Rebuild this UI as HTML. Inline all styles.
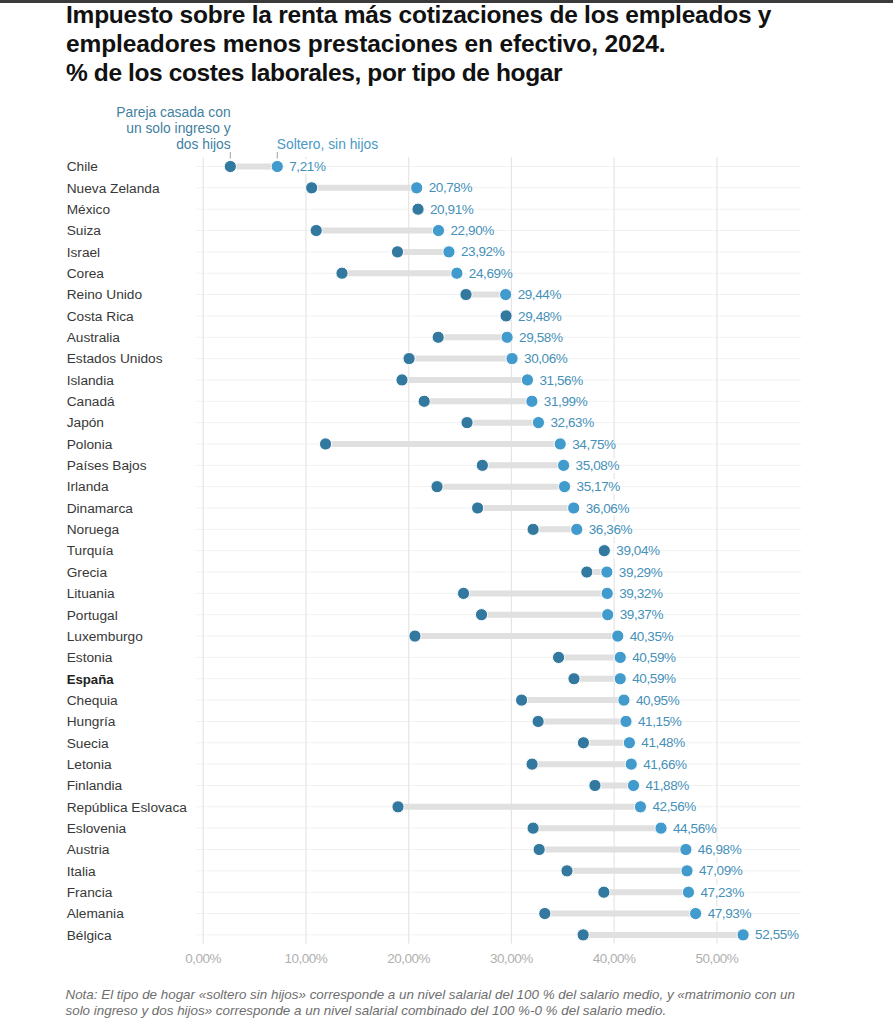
<!DOCTYPE html>
<html><head><meta charset="utf-8">
<style>
html,body{margin:0;padding:0;background:#fff;}
body{width:893px;height:1024px;position:relative;overflow:hidden;font-family:"Liberation Sans",sans-serif;}
.topbar{position:absolute;left:0;top:0;width:893px;height:2.6px;background:#3b3b3b;}
svg{position:absolute;left:0;top:0;}
svg text{font-family:"Liberation Sans",sans-serif;}
.t{font-weight:bold;font-size:24.5px;fill:#111;}
.cty{font-size:13.7px;fill:#383838;}
.cty.b{font-weight:bold;fill:#222;font-size:13.2px;}
.val{font-size:13.5px;fill:#4590b8;letter-spacing:-0.4px;}
.ax{font-size:13.5px;fill:#b0b0b0;letter-spacing:-0.5px;}
.lg1{font-size:13.8px;fill:#42809f;}
.lg2{font-size:13.8px;fill:#4a98c5;}
.note{font-size:13.4px;font-style:italic;fill:#6e6e6e;}
</style></head>
<body>
<div class="topbar"></div>
<svg width="893" height="1024" viewBox="0 0 893 1024">
<text class="t" x="66" y="22.8" textLength="705.5" lengthAdjust="spacing">Impuesto sobre la renta más cotizaciones de los empleados y</text>
<text class="t" x="66" y="51.5" textLength="599.5" lengthAdjust="spacing">empleadores menos prestaciones en efectivo, 2024.</text>
<text class="t" x="66" y="80.7" textLength="496.5" lengthAdjust="spacing">% de los costes laborales, por tipo de hogar</text>
<text class="lg1" x="230.6" y="116.5" text-anchor="end">Pareja casada con</text>
<text class="lg1" x="230.6" y="132.9" text-anchor="end">un solo ingreso y</text>
<text class="lg1" x="230.6" y="149" text-anchor="end">dos hijos</text>
<text class="lg2" x="276.8" y="148.6">Soltero, sin hijos</text>
<line x1="230.32" y1="152" x2="230.32" y2="158.5" stroke="#a0a0a0" stroke-width="1"/>
<line x1="277.28" y1="152" x2="277.28" y2="158.5" stroke="#a0a0a0" stroke-width="1"/>
<line x1="196" y1="166.50" x2="801" y2="166.50" stroke="#f1f1f1" stroke-width="1"/>
<line x1="196" y1="187.84" x2="801" y2="187.84" stroke="#f1f1f1" stroke-width="1"/>
<line x1="196" y1="209.19" x2="801" y2="209.19" stroke="#f1f1f1" stroke-width="1"/>
<line x1="196" y1="230.53" x2="801" y2="230.53" stroke="#f1f1f1" stroke-width="1"/>
<line x1="196" y1="251.88" x2="801" y2="251.88" stroke="#f1f1f1" stroke-width="1"/>
<line x1="196" y1="273.22" x2="801" y2="273.22" stroke="#f1f1f1" stroke-width="1"/>
<line x1="196" y1="294.56" x2="801" y2="294.56" stroke="#f1f1f1" stroke-width="1"/>
<line x1="196" y1="315.91" x2="801" y2="315.91" stroke="#f1f1f1" stroke-width="1"/>
<line x1="196" y1="337.25" x2="801" y2="337.25" stroke="#f1f1f1" stroke-width="1"/>
<line x1="196" y1="358.60" x2="801" y2="358.60" stroke="#f1f1f1" stroke-width="1"/>
<line x1="196" y1="379.94" x2="801" y2="379.94" stroke="#f1f1f1" stroke-width="1"/>
<line x1="196" y1="401.28" x2="801" y2="401.28" stroke="#f1f1f1" stroke-width="1"/>
<line x1="196" y1="422.63" x2="801" y2="422.63" stroke="#f1f1f1" stroke-width="1"/>
<line x1="196" y1="443.97" x2="801" y2="443.97" stroke="#f1f1f1" stroke-width="1"/>
<line x1="196" y1="465.32" x2="801" y2="465.32" stroke="#f1f1f1" stroke-width="1"/>
<line x1="196" y1="486.66" x2="801" y2="486.66" stroke="#f1f1f1" stroke-width="1"/>
<line x1="196" y1="508.00" x2="801" y2="508.00" stroke="#f1f1f1" stroke-width="1"/>
<line x1="196" y1="529.35" x2="801" y2="529.35" stroke="#f1f1f1" stroke-width="1"/>
<line x1="196" y1="550.69" x2="801" y2="550.69" stroke="#f1f1f1" stroke-width="1"/>
<line x1="196" y1="572.04" x2="801" y2="572.04" stroke="#f1f1f1" stroke-width="1"/>
<line x1="196" y1="593.38" x2="801" y2="593.38" stroke="#f1f1f1" stroke-width="1"/>
<line x1="196" y1="614.72" x2="801" y2="614.72" stroke="#f1f1f1" stroke-width="1"/>
<line x1="196" y1="636.07" x2="801" y2="636.07" stroke="#f1f1f1" stroke-width="1"/>
<line x1="196" y1="657.41" x2="801" y2="657.41" stroke="#f1f1f1" stroke-width="1"/>
<line x1="196" y1="678.76" x2="801" y2="678.76" stroke="#f1f1f1" stroke-width="1"/>
<line x1="196" y1="700.10" x2="801" y2="700.10" stroke="#f1f1f1" stroke-width="1"/>
<line x1="196" y1="721.44" x2="801" y2="721.44" stroke="#f1f1f1" stroke-width="1"/>
<line x1="196" y1="742.79" x2="801" y2="742.79" stroke="#f1f1f1" stroke-width="1"/>
<line x1="196" y1="764.13" x2="801" y2="764.13" stroke="#f1f1f1" stroke-width="1"/>
<line x1="196" y1="785.48" x2="801" y2="785.48" stroke="#f1f1f1" stroke-width="1"/>
<line x1="196" y1="806.82" x2="801" y2="806.82" stroke="#f1f1f1" stroke-width="1"/>
<line x1="196" y1="828.16" x2="801" y2="828.16" stroke="#f1f1f1" stroke-width="1"/>
<line x1="196" y1="849.51" x2="801" y2="849.51" stroke="#f1f1f1" stroke-width="1"/>
<line x1="196" y1="870.85" x2="801" y2="870.85" stroke="#f1f1f1" stroke-width="1"/>
<line x1="196" y1="892.20" x2="801" y2="892.20" stroke="#f1f1f1" stroke-width="1"/>
<line x1="196" y1="913.54" x2="801" y2="913.54" stroke="#f1f1f1" stroke-width="1"/>
<line x1="196" y1="934.88" x2="801" y2="934.88" stroke="#f1f1f1" stroke-width="1"/>
<line x1="203.20" y1="157" x2="203.20" y2="943.5" stroke="#e5e5e5" stroke-width="1.2"/>
<line x1="305.94" y1="157" x2="305.94" y2="943.5" stroke="#e5e5e5" stroke-width="1.2"/>
<line x1="408.68" y1="157" x2="408.68" y2="943.5" stroke="#e5e5e5" stroke-width="1.2"/>
<line x1="511.42" y1="157" x2="511.42" y2="943.5" stroke="#e5e5e5" stroke-width="1.2"/>
<line x1="614.16" y1="157" x2="614.16" y2="943.5" stroke="#e5e5e5" stroke-width="1.2"/>
<line x1="716.90" y1="157" x2="716.90" y2="943.5" stroke="#e5e5e5" stroke-width="1.2"/>
<line x1="230.32" y1="166.50" x2="277.28" y2="166.50" stroke="#e0e0e0" stroke-width="6"/>
<line x1="311.69" y1="187.84" x2="416.69" y2="187.84" stroke="#e0e0e0" stroke-width="6"/>
<line x1="316.21" y1="230.53" x2="438.47" y2="230.53" stroke="#e0e0e0" stroke-width="6"/>
<line x1="397.48" y1="251.88" x2="448.95" y2="251.88" stroke="#e0e0e0" stroke-width="6"/>
<line x1="342.00" y1="273.22" x2="456.87" y2="273.22" stroke="#e0e0e0" stroke-width="6"/>
<line x1="466.01" y1="294.56" x2="505.67" y2="294.56" stroke="#e0e0e0" stroke-width="6"/>
<line x1="438.17" y1="337.25" x2="507.10" y2="337.25" stroke="#e0e0e0" stroke-width="6"/>
<line x1="409.09" y1="358.60" x2="512.04" y2="358.60" stroke="#e0e0e0" stroke-width="6"/>
<line x1="402.00" y1="379.94" x2="527.45" y2="379.94" stroke="#e0e0e0" stroke-width="6"/>
<line x1="424.19" y1="401.28" x2="531.87" y2="401.28" stroke="#e0e0e0" stroke-width="6"/>
<line x1="467.04" y1="422.63" x2="538.44" y2="422.63" stroke="#e0e0e0" stroke-width="6"/>
<line x1="325.56" y1="443.97" x2="560.22" y2="443.97" stroke="#e0e0e0" stroke-width="6"/>
<line x1="482.34" y1="465.32" x2="563.61" y2="465.32" stroke="#e0e0e0" stroke-width="6"/>
<line x1="437.04" y1="486.66" x2="564.54" y2="486.66" stroke="#e0e0e0" stroke-width="6"/>
<line x1="477.62" y1="508.00" x2="573.68" y2="508.00" stroke="#e0e0e0" stroke-width="6"/>
<line x1="533.10" y1="529.35" x2="576.76" y2="529.35" stroke="#e0e0e0" stroke-width="6"/>
<line x1="586.83" y1="572.04" x2="606.87" y2="572.04" stroke="#e0e0e0" stroke-width="6"/>
<line x1="463.54" y1="593.38" x2="607.17" y2="593.38" stroke="#e0e0e0" stroke-width="6"/>
<line x1="481.52" y1="614.72" x2="607.69" y2="614.72" stroke="#e0e0e0" stroke-width="6"/>
<line x1="414.95" y1="636.07" x2="617.76" y2="636.07" stroke="#e0e0e0" stroke-width="6"/>
<line x1="558.58" y1="657.41" x2="620.22" y2="657.41" stroke="#e0e0e0" stroke-width="6"/>
<line x1="573.99" y1="678.76" x2="620.22" y2="678.76" stroke="#e0e0e0" stroke-width="6"/>
<line x1="521.59" y1="700.10" x2="623.92" y2="700.10" stroke="#e0e0e0" stroke-width="6"/>
<line x1="538.13" y1="721.44" x2="625.98" y2="721.44" stroke="#e0e0e0" stroke-width="6"/>
<line x1="583.44" y1="742.79" x2="629.37" y2="742.79" stroke="#e0e0e0" stroke-width="6"/>
<line x1="532.07" y1="764.13" x2="631.21" y2="764.13" stroke="#e0e0e0" stroke-width="6"/>
<line x1="594.95" y1="785.48" x2="633.48" y2="785.48" stroke="#e0e0e0" stroke-width="6"/>
<line x1="398.00" y1="806.82" x2="640.46" y2="806.82" stroke="#e0e0e0" stroke-width="6"/>
<line x1="533.10" y1="828.16" x2="661.01" y2="828.16" stroke="#e0e0e0" stroke-width="6"/>
<line x1="539.16" y1="849.51" x2="685.87" y2="849.51" stroke="#e0e0e0" stroke-width="6"/>
<line x1="567.00" y1="870.85" x2="687.00" y2="870.85" stroke="#e0e0e0" stroke-width="6"/>
<line x1="603.89" y1="892.20" x2="688.44" y2="892.20" stroke="#e0e0e0" stroke-width="6"/>
<line x1="544.81" y1="913.54" x2="695.63" y2="913.54" stroke="#e0e0e0" stroke-width="6"/>
<line x1="583.13" y1="934.88" x2="743.10" y2="934.88" stroke="#e0e0e0" stroke-width="6"/>
<circle cx="277.28" cy="166.50" r="6.1" fill="#419bcd" stroke="#fff" stroke-width="1"/>
<circle cx="230.32" cy="166.50" r="6.1" fill="#32789f" stroke="#fff" stroke-width="1"/>
<circle cx="416.69" cy="187.84" r="6.1" fill="#419bcd" stroke="#fff" stroke-width="1"/>
<circle cx="311.69" cy="187.84" r="6.1" fill="#32789f" stroke="#fff" stroke-width="1"/>
<circle cx="418.03" cy="209.19" r="6.1" fill="#419bcd" stroke="#fff" stroke-width="1"/>
<circle cx="418.03" cy="209.19" r="6.1" fill="#32789f" stroke="#fff" stroke-width="1"/>
<circle cx="438.47" cy="230.53" r="6.1" fill="#419bcd" stroke="#fff" stroke-width="1"/>
<circle cx="316.21" cy="230.53" r="6.1" fill="#32789f" stroke="#fff" stroke-width="1"/>
<circle cx="448.95" cy="251.88" r="6.1" fill="#419bcd" stroke="#fff" stroke-width="1"/>
<circle cx="397.48" cy="251.88" r="6.1" fill="#32789f" stroke="#fff" stroke-width="1"/>
<circle cx="456.87" cy="273.22" r="6.1" fill="#419bcd" stroke="#fff" stroke-width="1"/>
<circle cx="342.00" cy="273.22" r="6.1" fill="#32789f" stroke="#fff" stroke-width="1"/>
<circle cx="505.67" cy="294.56" r="6.1" fill="#419bcd" stroke="#fff" stroke-width="1"/>
<circle cx="466.01" cy="294.56" r="6.1" fill="#32789f" stroke="#fff" stroke-width="1"/>
<circle cx="506.08" cy="315.91" r="6.1" fill="#419bcd" stroke="#fff" stroke-width="1"/>
<circle cx="506.08" cy="315.91" r="6.1" fill="#32789f" stroke="#fff" stroke-width="1"/>
<circle cx="507.10" cy="337.25" r="6.1" fill="#419bcd" stroke="#fff" stroke-width="1"/>
<circle cx="438.17" cy="337.25" r="6.1" fill="#32789f" stroke="#fff" stroke-width="1"/>
<circle cx="512.04" cy="358.60" r="6.1" fill="#419bcd" stroke="#fff" stroke-width="1"/>
<circle cx="409.09" cy="358.60" r="6.1" fill="#32789f" stroke="#fff" stroke-width="1"/>
<circle cx="527.45" cy="379.94" r="6.1" fill="#419bcd" stroke="#fff" stroke-width="1"/>
<circle cx="402.00" cy="379.94" r="6.1" fill="#32789f" stroke="#fff" stroke-width="1"/>
<circle cx="531.87" cy="401.28" r="6.1" fill="#419bcd" stroke="#fff" stroke-width="1"/>
<circle cx="424.19" cy="401.28" r="6.1" fill="#32789f" stroke="#fff" stroke-width="1"/>
<circle cx="538.44" cy="422.63" r="6.1" fill="#419bcd" stroke="#fff" stroke-width="1"/>
<circle cx="467.04" cy="422.63" r="6.1" fill="#32789f" stroke="#fff" stroke-width="1"/>
<circle cx="560.22" cy="443.97" r="6.1" fill="#419bcd" stroke="#fff" stroke-width="1"/>
<circle cx="325.56" cy="443.97" r="6.1" fill="#32789f" stroke="#fff" stroke-width="1"/>
<circle cx="563.61" cy="465.32" r="6.1" fill="#419bcd" stroke="#fff" stroke-width="1"/>
<circle cx="482.34" cy="465.32" r="6.1" fill="#32789f" stroke="#fff" stroke-width="1"/>
<circle cx="564.54" cy="486.66" r="6.1" fill="#419bcd" stroke="#fff" stroke-width="1"/>
<circle cx="437.04" cy="486.66" r="6.1" fill="#32789f" stroke="#fff" stroke-width="1"/>
<circle cx="573.68" cy="508.00" r="6.1" fill="#419bcd" stroke="#fff" stroke-width="1"/>
<circle cx="477.62" cy="508.00" r="6.1" fill="#32789f" stroke="#fff" stroke-width="1"/>
<circle cx="576.76" cy="529.35" r="6.1" fill="#419bcd" stroke="#fff" stroke-width="1"/>
<circle cx="533.10" cy="529.35" r="6.1" fill="#32789f" stroke="#fff" stroke-width="1"/>
<circle cx="604.30" cy="550.69" r="6.1" fill="#419bcd" stroke="#fff" stroke-width="1"/>
<circle cx="604.30" cy="550.69" r="6.1" fill="#32789f" stroke="#fff" stroke-width="1"/>
<circle cx="606.87" cy="572.04" r="6.1" fill="#419bcd" stroke="#fff" stroke-width="1"/>
<circle cx="586.83" cy="572.04" r="6.1" fill="#32789f" stroke="#fff" stroke-width="1"/>
<circle cx="607.17" cy="593.38" r="6.1" fill="#419bcd" stroke="#fff" stroke-width="1"/>
<circle cx="463.54" cy="593.38" r="6.1" fill="#32789f" stroke="#fff" stroke-width="1"/>
<circle cx="607.69" cy="614.72" r="6.1" fill="#419bcd" stroke="#fff" stroke-width="1"/>
<circle cx="481.52" cy="614.72" r="6.1" fill="#32789f" stroke="#fff" stroke-width="1"/>
<circle cx="617.76" cy="636.07" r="6.1" fill="#419bcd" stroke="#fff" stroke-width="1"/>
<circle cx="414.95" cy="636.07" r="6.1" fill="#32789f" stroke="#fff" stroke-width="1"/>
<circle cx="620.22" cy="657.41" r="6.1" fill="#419bcd" stroke="#fff" stroke-width="1"/>
<circle cx="558.58" cy="657.41" r="6.1" fill="#32789f" stroke="#fff" stroke-width="1"/>
<circle cx="620.22" cy="678.76" r="6.1" fill="#419bcd" stroke="#fff" stroke-width="1"/>
<circle cx="573.99" cy="678.76" r="6.1" fill="#32789f" stroke="#fff" stroke-width="1"/>
<circle cx="623.92" cy="700.10" r="6.1" fill="#419bcd" stroke="#fff" stroke-width="1"/>
<circle cx="521.59" cy="700.10" r="6.1" fill="#32789f" stroke="#fff" stroke-width="1"/>
<circle cx="625.98" cy="721.44" r="6.1" fill="#419bcd" stroke="#fff" stroke-width="1"/>
<circle cx="538.13" cy="721.44" r="6.1" fill="#32789f" stroke="#fff" stroke-width="1"/>
<circle cx="629.37" cy="742.79" r="6.1" fill="#419bcd" stroke="#fff" stroke-width="1"/>
<circle cx="583.44" cy="742.79" r="6.1" fill="#32789f" stroke="#fff" stroke-width="1"/>
<circle cx="631.21" cy="764.13" r="6.1" fill="#419bcd" stroke="#fff" stroke-width="1"/>
<circle cx="532.07" cy="764.13" r="6.1" fill="#32789f" stroke="#fff" stroke-width="1"/>
<circle cx="633.48" cy="785.48" r="6.1" fill="#419bcd" stroke="#fff" stroke-width="1"/>
<circle cx="594.95" cy="785.48" r="6.1" fill="#32789f" stroke="#fff" stroke-width="1"/>
<circle cx="640.46" cy="806.82" r="6.1" fill="#419bcd" stroke="#fff" stroke-width="1"/>
<circle cx="398.00" cy="806.82" r="6.1" fill="#32789f" stroke="#fff" stroke-width="1"/>
<circle cx="661.01" cy="828.16" r="6.1" fill="#419bcd" stroke="#fff" stroke-width="1"/>
<circle cx="533.10" cy="828.16" r="6.1" fill="#32789f" stroke="#fff" stroke-width="1"/>
<circle cx="685.87" cy="849.51" r="6.1" fill="#419bcd" stroke="#fff" stroke-width="1"/>
<circle cx="539.16" cy="849.51" r="6.1" fill="#32789f" stroke="#fff" stroke-width="1"/>
<circle cx="687.00" cy="870.85" r="6.1" fill="#419bcd" stroke="#fff" stroke-width="1"/>
<circle cx="567.00" cy="870.85" r="6.1" fill="#32789f" stroke="#fff" stroke-width="1"/>
<circle cx="688.44" cy="892.20" r="6.1" fill="#419bcd" stroke="#fff" stroke-width="1"/>
<circle cx="603.89" cy="892.20" r="6.1" fill="#32789f" stroke="#fff" stroke-width="1"/>
<circle cx="695.63" cy="913.54" r="6.1" fill="#419bcd" stroke="#fff" stroke-width="1"/>
<circle cx="544.81" cy="913.54" r="6.1" fill="#32789f" stroke="#fff" stroke-width="1"/>
<circle cx="743.10" cy="934.88" r="6.1" fill="#419bcd" stroke="#fff" stroke-width="1"/>
<circle cx="583.13" cy="934.88" r="6.1" fill="#32789f" stroke="#fff" stroke-width="1"/>
<rect x="286.78" y="159.00" width="37.0" height="15" fill="#fff"/>
<text class="val" x="289.28" y="171.10">7,21%</text>
<rect x="426.19" y="180.34" width="43.2" height="15" fill="#fff"/>
<text class="val" x="428.69" y="192.44">20,78%</text>
<rect x="427.53" y="201.69" width="43.2" height="15" fill="#fff"/>
<text class="val" x="430.03" y="213.79">20,91%</text>
<rect x="447.97" y="223.03" width="43.2" height="15" fill="#fff"/>
<text class="val" x="450.47" y="235.13">22,90%</text>
<rect x="458.45" y="244.38" width="43.2" height="15" fill="#fff"/>
<text class="val" x="460.95" y="256.48">23,92%</text>
<rect x="466.37" y="265.72" width="43.2" height="15" fill="#fff"/>
<text class="val" x="468.87" y="277.82">24,69%</text>
<rect x="515.17" y="287.06" width="43.2" height="15" fill="#fff"/>
<text class="val" x="517.67" y="299.16">29,44%</text>
<rect x="515.58" y="308.41" width="43.2" height="15" fill="#fff"/>
<text class="val" x="518.08" y="320.51">29,48%</text>
<rect x="516.60" y="329.75" width="43.2" height="15" fill="#fff"/>
<text class="val" x="519.10" y="341.85">29,58%</text>
<rect x="521.54" y="351.10" width="43.2" height="15" fill="#fff"/>
<text class="val" x="524.04" y="363.20">30,06%</text>
<rect x="536.95" y="372.44" width="43.2" height="15" fill="#fff"/>
<text class="val" x="539.45" y="384.54">31,56%</text>
<rect x="541.37" y="393.78" width="43.2" height="15" fill="#fff"/>
<text class="val" x="543.87" y="405.88">31,99%</text>
<rect x="547.94" y="415.13" width="43.2" height="15" fill="#fff"/>
<text class="val" x="550.44" y="427.23">32,63%</text>
<rect x="569.72" y="436.47" width="43.2" height="15" fill="#fff"/>
<text class="val" x="572.22" y="448.57">34,75%</text>
<rect x="573.11" y="457.82" width="43.2" height="15" fill="#fff"/>
<text class="val" x="575.61" y="469.92">35,08%</text>
<rect x="574.04" y="479.16" width="43.2" height="15" fill="#fff"/>
<text class="val" x="576.54" y="491.26">35,17%</text>
<rect x="583.18" y="500.50" width="43.2" height="15" fill="#fff"/>
<text class="val" x="585.68" y="512.60">36,06%</text>
<rect x="586.26" y="521.85" width="43.2" height="15" fill="#fff"/>
<text class="val" x="588.76" y="533.95">36,36%</text>
<rect x="613.80" y="543.19" width="43.2" height="15" fill="#fff"/>
<text class="val" x="616.30" y="555.29">39,04%</text>
<rect x="616.37" y="564.54" width="43.2" height="15" fill="#fff"/>
<text class="val" x="618.87" y="576.64">39,29%</text>
<rect x="616.67" y="585.88" width="43.2" height="15" fill="#fff"/>
<text class="val" x="619.17" y="597.98">39,32%</text>
<rect x="617.19" y="607.22" width="43.2" height="15" fill="#fff"/>
<text class="val" x="619.69" y="619.32">39,37%</text>
<rect x="627.26" y="628.57" width="43.2" height="15" fill="#fff"/>
<text class="val" x="629.76" y="640.67">40,35%</text>
<rect x="629.72" y="649.91" width="43.2" height="15" fill="#fff"/>
<text class="val" x="632.22" y="662.01">40,59%</text>
<rect x="629.72" y="671.26" width="43.2" height="15" fill="#fff"/>
<text class="val" x="632.22" y="683.36">40,59%</text>
<rect x="633.42" y="692.60" width="43.2" height="15" fill="#fff"/>
<text class="val" x="635.92" y="704.70">40,95%</text>
<rect x="635.48" y="713.94" width="43.2" height="15" fill="#fff"/>
<text class="val" x="637.98" y="726.04">41,15%</text>
<rect x="638.87" y="735.29" width="43.2" height="15" fill="#fff"/>
<text class="val" x="641.37" y="747.39">41,48%</text>
<rect x="640.71" y="756.63" width="43.2" height="15" fill="#fff"/>
<text class="val" x="643.21" y="768.73">41,66%</text>
<rect x="642.98" y="777.98" width="43.2" height="15" fill="#fff"/>
<text class="val" x="645.48" y="790.08">41,88%</text>
<rect x="649.96" y="799.32" width="43.2" height="15" fill="#fff"/>
<text class="val" x="652.46" y="811.42">42,56%</text>
<rect x="670.51" y="820.66" width="43.2" height="15" fill="#fff"/>
<text class="val" x="673.01" y="832.76">44,56%</text>
<rect x="695.37" y="842.01" width="43.2" height="15" fill="#fff"/>
<text class="val" x="697.87" y="854.11">46,98%</text>
<rect x="696.50" y="863.35" width="43.2" height="15" fill="#fff"/>
<text class="val" x="699.00" y="875.45">47,09%</text>
<rect x="697.94" y="884.70" width="43.2" height="15" fill="#fff"/>
<text class="val" x="700.44" y="896.80">47,23%</text>
<rect x="705.13" y="906.04" width="43.2" height="15" fill="#fff"/>
<text class="val" x="707.63" y="918.14">47,93%</text>
<rect x="752.60" y="927.38" width="43.2" height="15" fill="#fff"/>
<text class="val" x="755.10" y="939.48">52,55%</text>
<text class="cty" x="66.7" y="171.30">Chile</text>
<text class="cty" x="66.7" y="192.64">Nueva Zelanda</text>
<text class="cty" x="66.7" y="213.99">México</text>
<text class="cty" x="66.7" y="235.33">Suiza</text>
<text class="cty" x="66.7" y="256.68">Israel</text>
<text class="cty" x="66.7" y="278.02">Corea</text>
<text class="cty" x="66.7" y="299.36">Reino Unido</text>
<text class="cty" x="66.7" y="320.71">Costa Rica</text>
<text class="cty" x="66.7" y="342.05">Australia</text>
<text class="cty" x="66.7" y="363.40">Estados Unidos</text>
<text class="cty" x="66.7" y="384.74">Islandia</text>
<text class="cty" x="66.7" y="406.08">Canadá</text>
<text class="cty" x="66.7" y="427.43">Japón</text>
<text class="cty" x="66.7" y="448.77">Polonia</text>
<text class="cty" x="66.7" y="470.12">Países Bajos</text>
<text class="cty" x="66.7" y="491.46">Irlanda</text>
<text class="cty" x="66.7" y="512.80">Dinamarca</text>
<text class="cty" x="66.7" y="534.15">Noruega</text>
<text class="cty" x="66.7" y="555.49">Turquía</text>
<text class="cty" x="66.7" y="576.84">Grecia</text>
<text class="cty" x="66.7" y="598.18">Lituania</text>
<text class="cty" x="66.7" y="619.52">Portugal</text>
<text class="cty" x="66.7" y="640.87">Luxemburgo</text>
<text class="cty" x="66.7" y="662.21">Estonia</text>
<text class="cty b" x="66.7" y="683.56">España</text>
<text class="cty" x="66.7" y="704.90">Chequia</text>
<text class="cty" x="66.7" y="726.24">Hungría</text>
<text class="cty" x="66.7" y="747.59">Suecia</text>
<text class="cty" x="66.7" y="768.93">Letonia</text>
<text class="cty" x="66.7" y="790.28">Finlandia</text>
<text class="cty" x="66.7" y="811.62">República Eslovaca</text>
<text class="cty" x="66.7" y="832.96">Eslovenia</text>
<text class="cty" x="66.7" y="854.31">Austria</text>
<text class="cty" x="66.7" y="875.65">Italia</text>
<text class="cty" x="66.7" y="897.00">Francia</text>
<text class="cty" x="66.7" y="918.34">Alemania</text>
<text class="cty" x="66.7" y="939.68">Bélgica</text>
<text class="ax" x="203.20" y="963.4" text-anchor="middle">0,00%</text>
<text class="ax" x="305.94" y="963.4" text-anchor="middle">10,00%</text>
<text class="ax" x="408.68" y="963.4" text-anchor="middle">20,00%</text>
<text class="ax" x="511.42" y="963.4" text-anchor="middle">30,00%</text>
<text class="ax" x="614.16" y="963.4" text-anchor="middle">40,00%</text>
<text class="ax" x="716.90" y="963.4" text-anchor="middle">50,00%</text>
<text class="note" x="65.5" y="999.4">Nota: El tipo de hogar «soltero sin hijos» corresponde a un nivel salarial del 100 % del salario medio, y «matrimonio con un</text>
<text class="note" x="65.5" y="1015.4">solo ingreso y dos hijos» corresponde a un nivel salarial combinado del 100 %-0 % del salario medio.</text>
</svg>
</body></html>
